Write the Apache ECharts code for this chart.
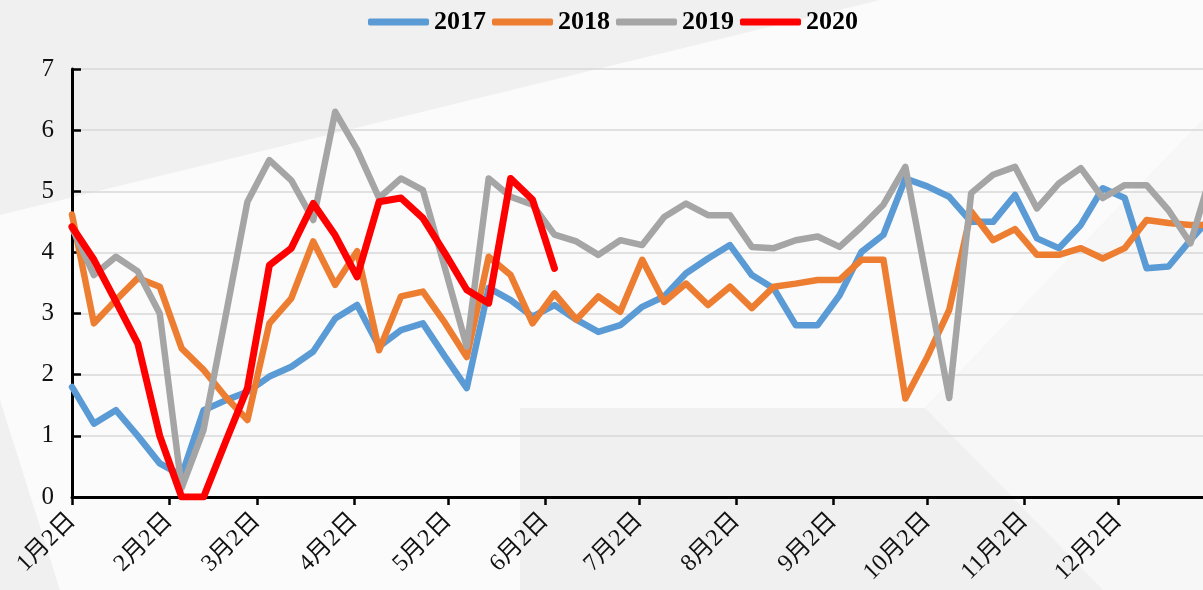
<!DOCTYPE html>
<html>
<head>
<meta charset="utf-8">
<script src="https://cdn.jsdelivr.net/npm/echarts@6.0.0/dist/echarts.min.js"></script>
<style>
  html, body { margin: 0; padding: 0; }
  #main { width: 1203px; height: 590px; }
</style>
</head>
<body>
<div id="main"></div>
<script>
// 月份刻度（按天计，从1月2日起）
var monthLabels = ['1月2日', '2月2日', '3月2日', '4月2日', '5月2日', '6月2日',
                   '7月2日', '8月2日', '9月2日', '10月2日', '11月2日', '12月2日'];
var monthDays = [0, 31, 59, 90, 120, 151, 181, 212, 243, 273, 304, 334];
var weekStep = 7; // 每周一个点

var years = ['2017', '2018', '2019', '2020'];
var colors = ['#5b9bd5', '#ed7d31', '#a5a5a5', '#ff0000'];

var data2017 = [1.8, 1.2, 1.42, 1.0, 0.55, 0.35, 1.42, 1.58, 1.72, 1.97, 2.13, 2.38, 2.92, 3.14,
  2.46, 2.73, 2.84, 2.3, 1.78, 3.42, 3.22, 2.95, 3.14, 2.9, 2.7, 2.81, 3.11, 3.28, 3.66, 3.9,
  4.12, 3.63, 3.41, 2.81, 2.81, 3.3, 4.01, 4.29, 5.21, 5.08, 4.91, 4.5, 4.5, 4.94, 4.23, 4.07,
  4.45, 5.05, 4.89, 3.74, 3.77, 4.2, 4.6];
var data2018 = [4.62, 2.84, 3.22, 3.58, 3.44, 2.43, 2.08, 1.64, 1.26, 2.84, 3.25, 4.18, 3.47, 4.02,
  2.4, 3.28, 3.36, 2.85, 2.29, 3.93, 3.63, 2.84, 3.33, 2.9, 3.28, 3.03, 3.88, 3.19, 3.49, 3.14,
  3.44, 3.09, 3.44, 3.49, 3.55, 3.55, 3.88, 3.88, 1.61, 2.29, 3.06, 4.67, 4.2, 4.38, 3.96, 3.96,
  4.07, 3.9, 4.07, 4.53, 4.48, 4.45, 4.45];
var data2019 = [4.4, 3.63, 3.93, 3.69, 3.0, 0.15, 1.1, 2.95, 4.83, 5.51, 5.18, 4.53, 6.3, 5.68,
  4.89, 5.21, 5.02, 3.75, 2.46, 5.21, 4.91, 4.78, 4.29, 4.18, 3.96, 4.2, 4.12, 4.58, 4.8, 4.61,
  4.61, 4.09, 4.07, 4.2, 4.26, 4.09, 4.42, 4.78, 5.4, 3.5, 1.62, 4.97, 5.27, 5.4, 4.72, 5.13,
  5.38, 4.89, 5.1, 5.1, 4.69, 4.15, 5.35];
var data2020 = [4.42, 3.88, 3.2, 2.51, 1.0, 0, 0, 0.9, 1.78, 3.79, 4.07, 4.8, 4.28, 3.6,
  4.83, 4.89, 4.56, 3.99, 3.39, 3.17, 5.21, 4.86, 3.74];

var allData = [data2017, data2018, data2019, data2020];

var fontSerif = '"Liberation Serif", "DejaVu Serif", "Noto Sans CJK SC", serif';

function toPoints(arr) {
  return arr.map(function (v, i) { return [i * weekStep, v]; });
}

var chart = echarts.init(document.getElementById('main'));

var series = [];
for (let i = 0; i < years.length; i++) {
  series.push({
    name: years[i],
    type: 'line',
    symbol: 'none',
    clip: true,
    data: toPoints(allData[i]),
    color: colors[i],
    lineStyle: { width: i == 3 ? 7 : 6.5, color: colors[i], join: 'round', cap: 'round' }
  });
}

// 背景装饰多边形
var bgShapes = [
  { points: [[0, 215], [880, 0], [1203, 0], [1203, 120], [925, 408], [520, 408], [520, 590], [60, 590], [0, 400]], fill: '#fbfbfb' },
  { points: [[1203, 120], [925, 408], [1103, 590], [1203, 590]], fill: '#f7f7f7' }
];

var option = {
  backgroundColor: '#f0f0f0',
  animation: false,
  graphic: bgShapes.map(function (s) {
    return { type: 'polygon', z: -10, silent: true, shape: { points: s.points }, style: { fill: s.fill } };
  }),
  legend: {
    left: 363,
    top: 4,
    itemWidth: 61,
    itemHeight: 7,
    itemGap: 6,
    icon: 'roundRect',
    data: years,
    textStyle: { fontSize: 26, fontWeight: 'bold', fontFamily: fontSerif, color: '#000' }
  },
  grid: { left: 72, right: 0, top: 69, bottom: 93 },
  xAxis: {
    type: 'value',
    min: 0,
    max: 361,
    axisLine: { lineStyle: { color: '#000', width: 3 } },
    axisTick: { customValues: monthDays, length: 8, lineStyle: { color: '#000', width: 2.5 } },
    axisLabel: {
      customValues: monthDays,
      rotate: 45,
      margin: 20,
      fontSize: 24,
      fontFamily: fontSerif,
      color: '#111',
      formatter: function (v) {
        var k = monthDays.indexOf(v);
        return k >= 0 ? monthLabels[k] : '';
      }
    },
    splitLine: { show: false }
  },
  yAxis: {
    type: 'value',
    min: 0,
    max: 7,
    interval: 1,
    axisLine: { show: true, lineStyle: { color: '#000', width: 3 } },
    axisTick: { show: true, inside: true, length: 9, lineStyle: { color: '#000', width: 2.5 } },
    axisLabel: { fontSize: 25, fontFamily: fontSerif, color: '#111', margin: 18 },
    splitLine: { lineStyle: { color: '#d9d9d9', width: 1.5 } }
  },
  series: series
};

chart.setOption(option);
</script>
</body>
</html>
